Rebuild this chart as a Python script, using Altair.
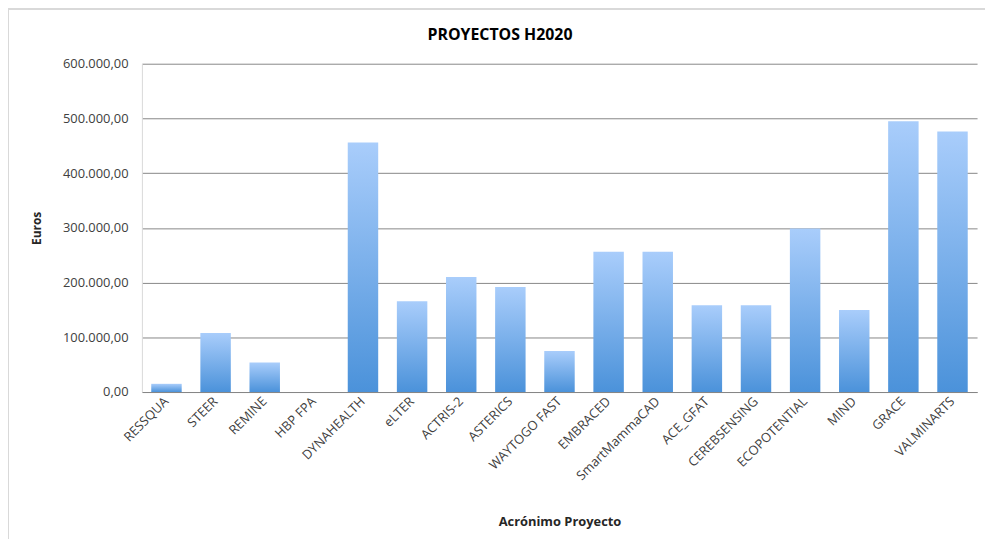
import altair as alt
import pandas as pd

proyectos = ["RESSQUA", "STEER", "REMINE", "HBP FPA", "DYNAHEALTH", "eLTER", "ACTRIS-2",
             "ASTERICS", "WAYTOGO FAST", "EMBRACED", "SmartMammaCAD", "ACE_GFAT",
             "CEREBSENSING", "ECOPOTENTIAL", "MIND", "GRACE", "VALMINARTS"]
euros = [15000, 108000, 54000, 0, 456000, 166000, 210000, 192000, 75000, 256500,
         256500, 158700, 158700, 299000, 150000, 495000, 476000]
y_ticks = [0, 100000, 200000, 300000, 400000, 500000, 600000]
titulo = "PROYECTOS H2020"

df = pd.DataFrame({"Proyecto": proyectos, "Euros": euros})

FONT = "Open Sans"
W, H = 842, 331

grad = alt.Gradient(
    gradient="linear",
    stops=[alt.GradientStop(color="#a9cdfb", offset=0),
           alt.GradientStop(color="#4b92da", offset=1)],
    x1=0, x2=0, y1=0, y2=1,
)

bars = alt.Chart(df).mark_bar(color=grad).encode(
    x=alt.X("Proyecto:N", sort=proyectos,
            scale=alt.Scale(paddingInner=0.38, paddingOuter=0.19),
            axis=alt.Axis(title="Acrónimo Proyecto", labelAngle=-45, labelAlign="right",
                          labelBaseline="middle", labelFontSize=13, labelColor="#404040",
                          labelFont=FONT, labelPadding=7, ticks=False, domain=True,
                          domainColor="#878787", titleFont=FONT, titleFontSize=13,
                          titleFontWeight="bold", titleColor="#262626",
                          titleY=131, titleBaseline="middle")),
    y=alt.Y("Euros:Q", scale=alt.Scale(domain=[0, 600000], nice=False),
            axis=alt.Axis(title="Euros", values=y_ticks, format=",.2f",
                          labelFont=FONT, labelFontSize=13, labelColor="#404040",
                          labelPadding=14, ticks=False, domain=True, domainColor="#d9d9d9",
                          grid=True, gridColor="#878787", gridWidth=1,
                          titleFont=FONT, titleFontSize=12, titleFontWeight="bold",
                          titleColor="#262626", titleX=-106, titleY=H / 2,
                          titleAngle=-90, titleBaseline="middle", titleAlign="center")),
)

title_mark = alt.Chart(pd.DataFrame({"t": [titulo]})).mark_text(
    font=FONT, fontSize=16, fontWeight="bold", color="#000000",
    align="center", baseline="middle").encode(
    text="t:N", x=alt.value(W / 2 - 143 + 496 - W / 2 + 8), y=alt.value(-29))

border_top = alt.Chart(df).mark_rule(color="#d9d9d9").encode(
    x=alt.value(-135), x2=alt.value(W + 20), y=alt.value(-55))
border_left = alt.Chart(df).mark_rule(color="#d9d9d9").encode(
    x=alt.value(-135), y=alt.value(-55), y2=alt.value(H + 160))

chart = alt.layer(border_top, border_left, bars, title_mark).properties(
    width=W, height=H,
    autosize=alt.AutoSizeParams(type="none"),
    padding={"left": 135, "top": 54, "right": 8, "bottom": 146},
).configure(
    locale={"number": {"decimal": ",", "thousands": ".", "grouping": [3],
                       "currency": ["", " €"]}}
).configure_view(stroke=None)

chart.save("out.html", embed_options={"renderer": "svg", "actions": False})
